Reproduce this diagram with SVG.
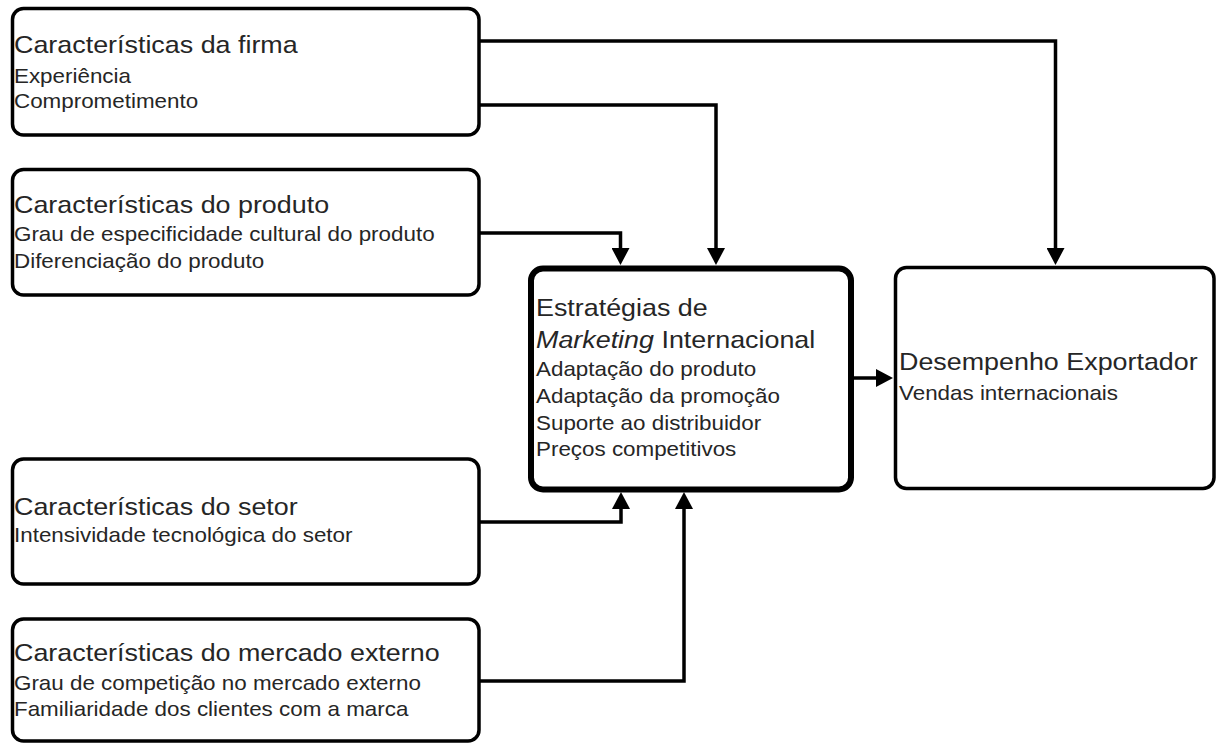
<svg xmlns="http://www.w3.org/2000/svg" width="1218" height="745" viewBox="0 0 1218 745">
<style>
.box{fill:#fff;stroke:#000;stroke-width:3.5}
.main{fill:#fff;stroke:#000;stroke-width:6}
.t{font-family:"Liberation Sans",Arial,sans-serif;fill:#262626}
.h{font-size:24px}
.s{font-size:20px}
.c{fill:none;stroke:#000;stroke-width:3.5}
</style>
<defs>
<marker id="arr" markerWidth="17" markerHeight="18" refX="9" refY="9" orient="auto" markerUnits="userSpaceOnUse">
<path d="M0,0 L17,9 L0,18 z" fill="#000"/>
</marker>
</defs>
<rect width="1218" height="745" fill="#fff"/>
<g id="connectors">
<path class="c" d="M479,41 H1055.5 V257" marker-end="url(#arr)"/>
<path class="c" d="M479,105 H716 V257" marker-end="url(#arr)"/>
<path class="c" d="M479,233 H620.5 V257" marker-end="url(#arr)"/>
<path class="c" d="M854,378 H885" marker-end="url(#arr)"/>
<path class="c" d="M479,522 H621 V500" marker-end="url(#arr)"/>
<path class="c" d="M479,681 H684 V500" marker-end="url(#arr)"/>
</g>
<g id="firma">
<rect class="box" x="12.5" y="8.5" width="466.5" height="126.5" rx="11"/>
<text class="t" transform="translate(14,0) scale(1.12,1)"><tspan class="h" x="0" y="53">Características da firma</tspan><tspan class="s" x="0" y="83">Experiência</tspan><tspan class="s" x="0" y="108.5">Comprometimento</tspan></text>
</g>
<g id="produto">
<rect class="box" x="12.5" y="169.5" width="466.5" height="125.5" rx="11"/>
<text class="t" transform="translate(14,0) scale(1.12,1)"><tspan class="h" x="0" y="213">Características do produto</tspan><tspan class="s" x="0" y="241.5">Grau de especificidade cultural do produto</tspan><tspan class="s" x="0" y="268">Diferenciação do produto</tspan></text>
</g>
<g id="setor">
<rect class="box" x="12.5" y="459" width="466.5" height="125" rx="11"/>
<text class="t" transform="translate(14,0) scale(1.12,1)"><tspan class="h" x="0" y="515">Características do setor</tspan><tspan class="s" x="0" y="542.5">Intensividade tecnológica do setor</tspan></text>
</g>
<g id="mercado">
<rect class="box" x="12.5" y="619" width="466.5" height="122" rx="11"/>
<text class="t" transform="translate(14,0) scale(1.12,1)"><tspan class="h" x="0" y="661">Características do mercado externo</tspan><tspan class="s" x="0" y="690">Grau de competição no mercado externo</tspan><tspan class="s" x="0" y="716.5">Familiaridade dos clientes com a marca</tspan></text>
</g>
<g id="estrategias">
<rect class="main" x="531" y="268.5" width="320" height="221" rx="12"/>
<text class="t" transform="translate(536,0) scale(1.12,1)"><tspan class="h" x="0" y="316.5">Estratégias de</tspan><tspan class="h" x="0" y="348"><tspan font-style="italic">Marketing</tspan> Internacional</tspan><tspan class="s" x="0" y="376.5">Adaptação do produto</tspan><tspan class="s" x="0" y="403">Adaptação da promoção</tspan><tspan class="s" x="0" y="430">Suporte ao distribuidor</tspan><tspan class="s" x="0" y="456.5">Preços competitivos</tspan></text>
</g>
<g id="desempenho">
<rect class="box" x="895.5" y="267.5" width="318.5" height="221" rx="11"/>
<text class="t" transform="translate(899,0) scale(1.12,1)"><tspan class="h" x="0" y="370">Desempenho Exportador</tspan><tspan class="s" x="0" y="400">Vendas internacionais</tspan></text>
</g>
</svg>
